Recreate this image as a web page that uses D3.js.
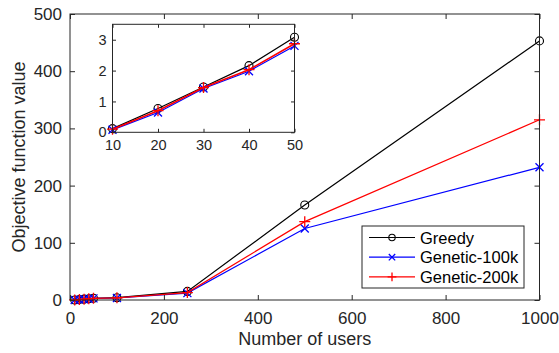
<!DOCTYPE html>
<html>
<head>
<meta charset="utf-8">
<script src="https://cdn.jsdelivr.net/npm/d3@7"></script>
<style>
  html, body { margin: 0; padding: 0; background: #fff; }
  svg { display: block; font-family: "Liberation Sans", Arial, sans-serif; }
</style>
</head>
<body>
<svg id="chart" width="559" height="353"></svg>
<script>
// Number of users evaluated
const users = [10, 20, 30, 40, 50, 100, 250, 500, 1000];
// Objective function value per algorithm
const greedy     = [0.12, 0.77, 1.47, 2.16, 3.08, 4.0, 15, 166, 453];
const genetic100 = [0.08, 0.64, 1.42, 1.98, 2.80, 3.5, 12, 125, 232];
const genetic200 = [0.10, 0.70, 1.45, 2.03, 2.87, 3.8, 13, 137, 315];

const xTicks = [0, 200, 400, 600, 800, 1000];
const yTicks = [0, 100, 200, 300, 400, 500];
const insetXTicks = [10, 20, 30, 40, 50];
const insetYTicks = [0, 1, 2, 3];

const seriesList = [
  { name: "Greedy",       values: greedy,     color: "#000000", marker: "circle" },
  { name: "Genetic-100k", values: genetic100, color: "#0000ff", marker: "cross" },
  { name: "Genetic-200k", values: genetic200, color: "#ff0000", marker: "plus" }
];

const axisColor = "#262626";
const fmt = d3.format("d");
const svg = d3.select("#chart");

function drawMarker(g, type, x, y, color, size) {
  if (type === "circle") {
    g.append("circle").attr("cx", x).attr("cy", y).attr("r", size * 0.8)
      .attr("fill", "none").attr("stroke", color).attr("stroke-width", 1.1);
  } else if (type === "cross") {
    const s = size * 0.8;
    g.append("path").attr("d", `M${x - s},${y - s}L${x + s},${y + s}M${x - s},${y + s}L${x + s},${y - s}`)
      .attr("stroke", color).attr("stroke-width", 1.3).attr("fill", "none");
  } else {
    const s = size * 1.1;
    g.append("path").attr("d", `M${x - s},${y}L${x + s},${y}M${x},${y - s}L${x},${y + s}`)
      .attr("stroke", color).attr("stroke-width", 1.3).attr("fill", "none");
  }
}

// Framed axes with inward ticks on all four sides
function drawFrame(g, x, y, xt, yt, tickLen, fontSize, padX, padY) {
  const [x0, x1] = x.range();
  const [y0, y1] = y.range();
  g.append("g").attr("transform", `translate(0,${y0})`)
    .call(d3.axisBottom(x).tickValues(xt).tickFormat(fmt).tickSizeInner(-tickLen).tickSizeOuter(0).tickPadding(padX))
    .call(a => a.select(".domain").remove());
  g.append("g").attr("transform", `translate(0,${y1})`)
    .call(d3.axisTop(x).tickValues(xt).tickSizeInner(-tickLen).tickSizeOuter(0).tickFormat(""))
    .call(a => a.select(".domain").remove());
  g.append("g").attr("transform", `translate(${x0},0)`)
    .call(d3.axisLeft(y).tickValues(yt).tickFormat(fmt).tickSizeInner(-tickLen).tickSizeOuter(0).tickPadding(padY))
    .call(a => a.select(".domain").remove());
  g.append("g").attr("transform", `translate(${x1},0)`)
    .call(d3.axisRight(y).tickValues(yt).tickSizeInner(-tickLen).tickSizeOuter(0).tickFormat(""))
    .call(a => a.select(".domain").remove());
  g.selectAll(".tick line").attr("stroke", axisColor);
  g.selectAll(".tick text").attr("fill", axisColor).attr("font-size", fontSize)
    .attr("font-family", "Liberation Sans, Arial, sans-serif");
  g.append("rect").attr("x", x0).attr("y", y1).attr("width", x1 - x0).attr("height", y0 - y1)
    .attr("fill", "none").attr("stroke", axisColor).attr("stroke-width", 1);
}

// ---- Main plot ----
const x = d3.scaleLinear().domain([0, 1000]).range([70, 539.5]);
const y = d3.scaleLinear().domain([0, 500]).range([300, 14]);

const main = svg.append("g");
main.append("rect").attr("x", 70).attr("y", 14).attr("width", 469.5).attr("height", 286).attr("fill", "#fff");

seriesList.forEach(s => {
  const pts = users.map((u, i) => [x(u), y(s.values[i])]);
  main.append("path").attr("d", d3.line()(pts)).attr("fill", "none")
    .attr("stroke", s.color).attr("stroke-width", 1.2);
  pts.forEach(p => drawMarker(main, s.marker, p[0], p[1], s.color, 5));
});

drawFrame(main, x, y, xTicks, yTicks, 5, "17px", 11.5, 8);

main.append("text").attr("x", (70 + 539.5) / 2).attr("y", 345).attr("text-anchor", "middle")
  .attr("font-size", "18px").attr("fill", axisColor).text("Number of users");
main.append("text").attr("transform", `translate(25,${157}) rotate(-90)`).attr("text-anchor", "middle")
  .attr("font-size", "18px").attr("fill", axisColor).text("Objective function value");

// ---- Legend ----
const legend = svg.append("g");
legend.append("rect").attr("x", 362).attr("y", 226).attr("width", 162).attr("height", 62)
  .attr("fill", "#fff").attr("stroke", axisColor).attr("stroke-width", 1);
seriesList.forEach((s, i) => {
  const ly = 237.5 + i * 19.7;
  legend.append("line").attr("x1", 369).attr("x2", 415).attr("y1", ly).attr("y2", ly)
    .attr("stroke", s.color).attr("stroke-width", 1.2);
  drawMarker(legend, s.marker, 392, ly, s.color, 4);
  legend.append("text").attr("x", 420).attr("y", ly + 6).attr("font-size", "16.5px")
    .attr("fill", "#000").text(s.name);
});

// ---- Inset: small user counts ----
const nSmall = 5;
const xi = d3.scaleLinear().domain([10, 50]).range([112.5, 294.5]);
const yi = d3.scaleLinear().domain([0, 3.5]).range([132.3, 24.3]);
const inset = svg.append("g");
inset.append("rect").attr("x", 112.5).attr("y", 24.3).attr("width", 182).attr("height", 108).attr("fill", "#fff");
seriesList.forEach(s => {
  const pts = users.slice(0, nSmall).map((u, i) => [xi(u), yi(s.values[i])]);
  inset.append("path").attr("d", d3.line()(pts)).attr("fill", "none")
    .attr("stroke", s.color).attr("stroke-width", s.name === "Genetic-200k" ? 1.6 : 1.2);
  pts.forEach(p => drawMarker(inset, s.marker, p[0], p[1], s.color, 5));
});
drawFrame(inset, xi, yi, insetXTicks, insetYTicks, 3.5, "14.5px", 7.5, 6);
</script>
</body>
</html>
